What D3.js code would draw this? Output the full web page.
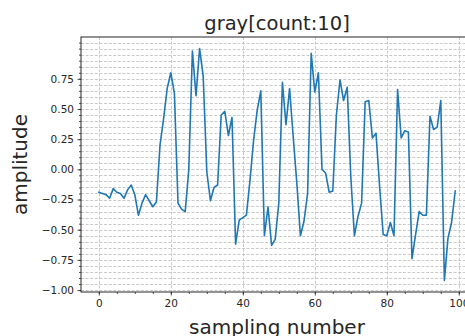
<!DOCTYPE html>
<html>
<head>
<meta charset="utf-8">
<script src="https://cdn.jsdelivr.net/npm/d3@7"></script>
<style>
  html, body { margin: 0; padding: 0; background: #fff; }
  svg { display: block; font-family: "DejaVu Sans", sans-serif; }
</style>
</head>
<body>
<div id="chart"></div>
<script>
// amplitude per sample
var amplitude = [
  -0.19, -0.20, -0.21, -0.24, -0.16, -0.19, -0.20, -0.24, -0.17, -0.13,
  -0.21, -0.38, -0.28, -0.21, -0.26, -0.31, -0.27, 0.20, 0.42, 0.67,
  0.80, 0.63, -0.28, -0.33, -0.35, 0.00, 0.98, 0.61, 1.00, 0.77,
  -0.02, -0.26, -0.15, -0.13, 0.45, 0.48, 0.28, 0.43, -0.62, -0.42,
  -0.40, -0.38, -0.09, 0.24, 0.49, 0.65, -0.55, -0.31, -0.63, -0.58,
  -0.28, 0.72, 0.37, 0.67, 0.27, -0.11, -0.55, -0.43, -0.20, 0.96,
  0.64, 0.80, 0.00, -0.03, -0.19, -0.18, 0.45, 0.74, 0.57, 0.68,
  -0.06, -0.55, -0.39, -0.28, 0.56, 0.57, 0.26, 0.30, -0.14, -0.54,
  -0.55, -0.44, -0.55, 0.66, 0.26, 0.32, 0.31, -0.74, -0.54, -0.35,
  -0.38, -0.38, 0.44, 0.33, 0.35, 0.57, -0.92, -0.57, -0.44, -0.18
];
var xMajor = [0, 20, 40, 60, 80, 100];
var xMinor = [0, 5, 10, 15, 20, 25, 30, 35, 40, 45, 50, 55, 60, 65, 70, 75, 80, 85, 90, 95, 100];
var yMajor = [-1.00, -0.75, -0.50, -0.25, 0.00, 0.25, 0.50, 0.75];
var yMinor = [-1.00, -0.95, -0.90, -0.85, -0.80, -0.75, -0.70, -0.65, -0.60, -0.55,
  -0.50, -0.45, -0.40, -0.35, -0.30, -0.25, -0.20, -0.15, -0.10, -0.05, 0.00,
  0.05, 0.10, 0.15, 0.20, 0.25, 0.30, 0.35, 0.40, 0.45, 0.50, 0.55, 0.60,
  0.65, 0.70, 0.75, 0.80, 0.85, 0.90, 0.95, 1.00, 1.05];
var titleText = "gray[count:10]";
var xLabel = "sampling number";
var yLabel = "amplitude";

(function () {
  var W = 465, H = 336;
  var L = 81, R = 473, T = 37, B = 292;
  var ink = "#262626";

  var pts = amplitude.map(function (v, i) { return [i, v]; });

  // matplotlib-style 5% margins
  var nx = pts.length - 1;
  var x = d3.scaleLinear().domain([-nx * 0.05, nx * 1.05]).range([L, R]);
  var ext = d3.extent(amplitude), pad = (ext[1] - ext[0]) * 0.05;
  var y = d3.scaleLinear().domain([ext[0] - pad, ext[1] + pad]).range([B, T]);

  var svg = d3.select("#chart").append("svg")
    .attr("width", W).attr("height", H);

  // grid: horizontal at every minor step, vertical at majors
  var grid = svg.append("g")
    .attr("stroke", "#bcbcbc").attr("stroke-width", 0.8)
    .attr("stroke-dasharray", "3,1.6").attr("fill", "none");
  grid.selectAll("line.h").data(yMinor).join("line").attr("class", "h")
    .attr("x1", L).attr("x2", R)
    .attr("y1", function (d) { return Math.round(y(d)) + 0.5; })
    .attr("y2", function (d) { return Math.round(y(d)) + 0.5; });
  grid.selectAll("line.v").data(xMajor).join("line").attr("class", "v")
    .attr("y1", T).attr("y2", B)
    .attr("x1", function (d) { return Math.round(x(d)) + 0.5; })
    .attr("x2", function (d) { return Math.round(x(d)) + 0.5; });

  svg.append("path")
    .datum(pts)
    .attr("fill", "none")
    .attr("stroke", "#1f77b4")
    .attr("stroke-width", 1.6)
    .attr("stroke-linejoin", "round")
    .attr("stroke-linecap", "square")
    .attr("d", d3.line()
      .x(function (d) { return x(d[0]); })
      .y(function (d) { return y(d[1]); }));

  // axes
  function styleAxis(g) {
    g.select(".domain").remove();
    g.selectAll("line").attr("stroke", ink).attr("stroke-width", 0.8);
    g.selectAll("text").attr("fill", ink)
      .attr("font-family", "DejaVu Sans").attr("font-size", "10.5px");
  }
  svg.append("g").attr("transform", "translate(0," + B + ")")
    .call(d3.axisBottom(x).tickValues(xMinor).tickSize(2).tickFormat(""))
    .call(styleAxis);
  svg.append("g").attr("transform", "translate(0," + B + ")")
    .call(d3.axisBottom(x).tickValues(xMajor).tickSize(3.5).tickPadding(4)
      .tickFormat(d3.format("d")))
    .call(styleAxis);
  svg.append("g").attr("transform", "translate(" + L + ",0)")
    .call(d3.axisLeft(y).tickValues(yMinor).tickSize(2).tickFormat(""))
    .call(styleAxis);
  svg.append("g").attr("transform", "translate(" + L + ",0)")
    .call(d3.axisLeft(y).tickValues(yMajor).tickSize(3.5).tickPadding(3.5)
      .tickFormat(d3.format(".2f")))
    .call(styleAxis);

  // spines
  svg.append("rect")
    .attr("x", L).attr("y", T).attr("width", R - L).attr("height", B - T)
    .attr("fill", "none").attr("stroke", ink).attr("stroke-width", 1);

  svg.append("text")
    .attr("x", (L + R) / 2).attr("y", 30)
    .attr("text-anchor", "middle").attr("font-size", "19.5px").attr("fill", ink)
    .text(titleText);
  svg.append("text")
    .attr("x", (L + R) / 2).attr("y", 334)
    .attr("text-anchor", "middle").attr("font-size", "20px").attr("fill", ink)
    .text(xLabel);
  svg.append("text")
    .attr("transform", "translate(27," + (T + B) / 2 + ") rotate(-90)")
    .attr("text-anchor", "middle").attr("font-size", "20px").attr("fill", ink)
    .text(yLabel);
})();
</script>
</body>
</html>
